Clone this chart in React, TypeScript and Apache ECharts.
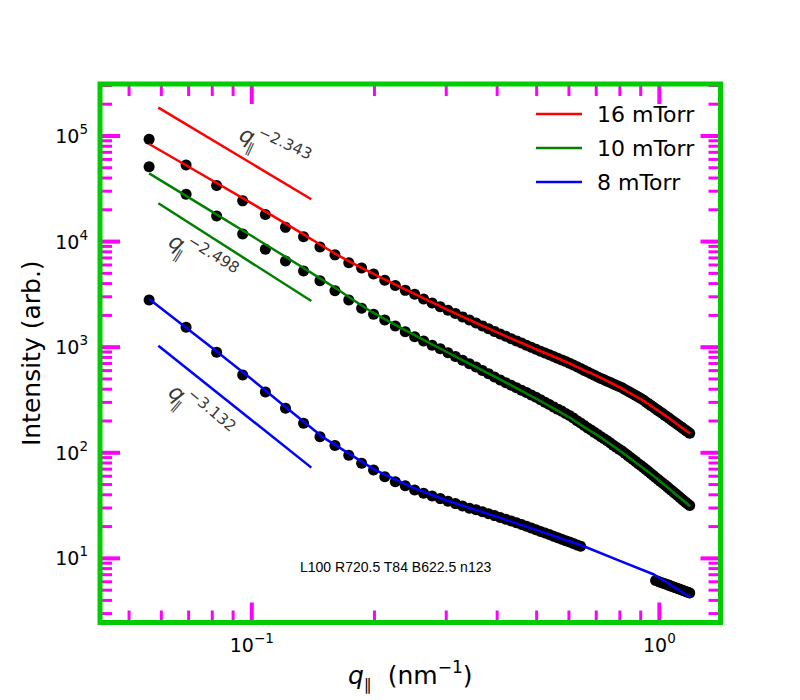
import React, { useEffect, useRef } from "react";
import * as echarts from "echarts";

// ---------------- data ----------------
const qValues = [
  0.056, 0.069, 0.082, 0.095, 0.108, 0.121, 0.134, 0.147, 0.160, 0.173,
  0.186, 0.199, 0.212, 0.225, 0.238, 0.251, 0.264, 0.277, 0.290, 0.303,
  0.316, 0.329, 0.342, 0.355, 0.368, 0.381, 0.394, 0.407, 0.420, 0.433,
  0.446, 0.459, 0.472, 0.485, 0.498, 0.511, 0.524, 0.537, 0.550, 0.563,
  0.576, 0.589, 0.602, 0.615, 0.628, 0.641, 0.654, 0.667, 0.680, 0.693,
  0.706, 0.719, 0.732, 0.745, 0.758, 0.771, 0.784, 0.797, 0.810, 0.823,
  0.836, 0.849, 0.862, 0.875, 0.888, 0.901, 0.914, 0.927, 0.940, 0.953,
  0.966, 0.979, 0.992, 1.005, 1.018, 1.031, 1.044, 1.057, 1.070, 1.083,
  1.096, 1.109, 1.122, 1.135, 1.148, 1.161, 1.174, 1.187,
];

const int16 = [
  93060, 53150, 33980, 24290, 18060, 13630, 11100, 8890, 7483, 6314,
  5612, 4922, 4310, 3840, 3451, 3176, 2854, 2622, 2418, 2240,
  2080, 1936, 1809, 1695, 1591, 1497, 1411, 1334, 1266, 1204,
  1147, 1094, 1042, 998, 955, 916, 881, 847, 816, 787,
  758, 732, 706, 677, 651, 627, 603, 582, 561, 542,
  523, 506, 491, 476, 462, 448, 436, 424, 412, 398,
  385, 372, 360, 348, 337, 326, 316, 303, 292, 281,
  271, 261, 252, 243, 235, 227, 219, 212, 204, 198,
  191, 185, 179, 174, 168, 163, 158, 153,
];

const int10 = [
  51220, 28050, 17480, 11800, 8455, 6552, 5268, 4255, 3428, 2799,
  2341, 2049, 1809, 1588, 1402, 1257, 1145, 1042, 965, 885,
  815, 753, 698, 648, 602, 560, 522, 489, 461, 436,
  413, 391, 372, 353, 335, 317, 301, 286, 272, 259,
  248, 236, 225, 213, 201, 191, 181, 172, 164, 156,
  149, 142, 136, 130, 124, 118, 113, 108, 104, 99.1,
  94.5, 90.3, 86.2, 82.6, 78.9, 75.6, 72.4, 69.3, 66.4, 63.5,
  61.0, 58.4, 56.1, 53.8, 51.8, 49.8, 47.8, 45.9, 44.2, 42.4,
  40.9, 39.3, 37.9, 36.4, 35.2, 33.9, 32.7, 31.6,
];

const int8Low = [
  2799, 1543, 895, 546, 377, 264, 190, 142, 117, 94.7,
  79.5, 68.7, 59.4, 53.2, 48.8, 44.4, 41.3, 39.0, 36.8, 34.8,
  33.0, 31.4, 29.9, 28.9, 27.6, 26.5, 25.4, 24.4, 23.5, 22.6,
  21.7, 20.9, 20.1, 19.4, 18.7, 18.0, 17.4, 16.8, 16.2, 15.7,
  15.2, 14.7, 14.3, 13.8, 13.4, 13.05,
];

const q8High = [
  0.979, 0.992, 1.005, 1.018, 1.031, 1.044, 1.057, 1.070, 1.083,
  1.096, 1.109, 1.122, 1.135, 1.148, 1.161, 1.174, 1.187,
];
const int8High = [
  6.18, 6.07, 5.95, 5.85, 5.75, 5.65, 5.55, 5.45, 5.36,
  5.28, 5.19, 5.10, 5.02, 4.93, 4.86, 4.79, 4.70,
];

const fitQ = [
  0.056, 0.1, 0.134, 0.16, 0.2, 0.3, 0.4, 0.5, 0.55, 0.6, 0.65, 0.7,
  0.75, 0.8, 0.85, 0.9, 0.95, 1.0, 1.05, 1.1, 1.15, 1.19,
];
const fit16 = [
  84000, 23000, 11700, 7700, 4900, 2290, 1378, 951, 816, 706, 611, 538,
  473, 416, 364, 322, 282, 246, 216, 189, 167, 152,
];
const fit10 = [
  44300, 11300, 5620, 3650, 2090, 905, 511, 323, 263, 217, 178, 149,
  124.6, 104.4, 87.8, 74.7, 63.8, 54.3, 46.6, 40.1, 34.7, 31.2,
];
const fitQ8 = [0.056, 0.08, 0.1, 0.12, 0.15, 0.2, 0.25, 0.3, 0.4, 0.5, 0.65, 0.8, 0.97, 1.19];
const fit8 = [2860, 983, 496, 279, 139, 69.3, 46.3, 35.5, 24.7, 18.5, 13.1, 9.47, 7.04, 4.28];

const guideQ = [0.059, 0.14];
const guide16 = [185500, 25160];
const guide10 = [23050, 2738];
const guide8 = [1033, 72.3];

const seriesNames = ["16 mTorr", "10 mTorr", "8 mTorr"];
const exponents = ["−2.343", "−2.498", "−3.132"];
const annotQ = [0.1134, 0.0755, 0.0746];
const annotI = [76900, 6995, 243];
const annotRot = [-25, -32, -40];

const xMajorTicks = [0.1, 1];
const xMinorTicks = [0.05, 0.06, 0.07, 0.08, 0.09, 0.2, 0.3, 0.4, 0.5, 0.6, 0.7, 0.8, 0.9];
const yMajorTicks = [10, 100, 1000, 10000, 100000];
const yMinorTicks = [
  3, 4, 5, 6, 7, 8, 9,
  20, 30, 40, 50, 60, 70, 80, 90,
  200, 300, 400, 500, 600, 700, 800, 900,
  2000, 3000, 4000, 5000, 6000, 7000, 8000, 9000,
  20000, 30000, 40000, 50000, 60000, 70000, 80000, 90000,
  200000, 300000,
];

const xRange = [0.04243, 1.4125];
const yRange = [2.47, 310600];

const FONT = "DejaVu Sans";
const L = Math.log10;
const pairs = (xs: number[], ys: number[]) => ys.map((y, i) => [L(xs[i]), L(y)]);
const colors = ["#ff0000", "#008000", "#0000ff"];
const GRID = { left: 100, top: 84, width: 620.5, height: 538.5 };

function powLabel(v: number) {
  const e = Math.round(v);
  return `{b|10}{s|${e < 0 ? "−" : ""}${Math.abs(e)}}`;
}

const labelRich = {
  b: { fontSize: 19, fontFamily: FONT, color: "#000", lineHeight: 28 },
  s: { fontSize: 13.5, fontFamily: FONT, color: "#000", lineHeight: 13, verticalAlign: "top" },
};

function makeAxis(kind: "x" | "y", position: string) {
  const range = kind === "x" ? xRange : yRange;
  const ticks = kind === "x" ? xMajorTicks : yMajorTicks;
  const logTicks = ticks.map((t) => L(t));
  return {
    type: "value",
    position,
    min: L(range[0]),
    max: L(range[1]),
    splitLine: { show: false },
    axisLine: { show: false, onZero: false },
    axisTick: { show: false },
    axisLabel: {
      show: true,
      customValues: logTicks,
      margin: kind === "x" ? 8 : 12,
      formatter: (v: number) => powLabel(v),
      rich: labelRich,
    },
  } as any;
}

function buildOption() {
  const xAxes = [
    {
      ...makeAxis("x", "bottom"),
      name: "{i|q}{sub|∥}{n|  (nm}{sup|−1}{n|)}",
      nameLocation: "middle",
      nameGap: 34,
      nameTextStyle: {
        rich: {
          i: { fontSize: 25, fontFamily: FONT, fontStyle: "italic", color: "#000", lineHeight: 34 },
          sub: { fontSize: 16, fontFamily: FONT, color: "#000", lineHeight: 14, verticalAlign: "bottom" },
          n: { fontSize: 25, fontFamily: FONT, color: "#000", lineHeight: 34 },
          sup: { fontSize: 17, fontFamily: FONT, color: "#000", lineHeight: 17, verticalAlign: "top" },
        },
      },
    },
  ];
  const yAxes = [
    {
      ...makeAxis("y", "left"),
      name: "Intensity (arb.)",
      nameLocation: "middle",
      nameGap: 52,
      nameTextStyle: { fontSize: 25, fontFamily: FONT, color: "#000" },
    },
  ];

  const dataSets = [
    pairs(qValues, int16),
    pairs(qValues, int10),
    pairs(qValues.slice(0, int8Low.length), int8Low),
    pairs(q8High, int8High),
  ];
  const scatterSeries = dataSets.map((d, i) => ({
    type: "scatter",
    name: "data" + i,
    data: d,
    symbol: "circle",
    symbolSize: 11,
    itemStyle: { color: "#000", opacity: 1 },
    z: 2,
    silent: true,
  }));

  const fits = [pairs(fitQ, fit16), pairs(fitQ, fit10), pairs(fitQ8, fit8)];
  const fitSeries = fits.map((d, i) => ({
    type: "line",
    name: seriesNames[i],
    data: d,
    symbol: "none",
    smooth: i < 2 ? 0.25 : false,
    lineStyle: { color: colors[i], width: 2.5 },
    itemStyle: { color: colors[i] },
    z: 3,
    silent: true,
  }));

  const guides = [guide16, guide10, guide8].map((g) => pairs(guideQ, g));
  const guideSeries = guides.map((d, i) => ({
    type: "line",
    name: "guide" + i,
    data: d,
    symbol: "none",
    lineStyle: { color: colors[i], width: 2.5 },
    z: 3,
    silent: true,
  }));

  const annotSeries = {
    type: "scatter",
    name: "annotations",
    symbolSize: 1,
    itemStyle: { color: "rgba(0,0,0,0)" },
    silent: true,
    z: 4,
    data: exponents.map((e, i) => ({
      value: [L(annotQ[i]), L(annotI[i])],
      label: { rotate: annotRot[i], formatter: `{q|q}{sub|∥}{sup|${e}}` },
    })),
    label: {
      show: true,
      position: "inside",
      align: "center",
      verticalAlign: "middle",
      rich: {
        q: { fontSize: 22, fontFamily: FONT, fontStyle: "italic", color: "#000", lineHeight: 34 },
        sub: { fontSize: 14, fontFamily: FONT, color: "#000", lineHeight: 14, verticalAlign: "bottom", width: 2 },
        sup: { fontSize: 15.5, fontFamily: FONT, color: "#000", lineHeight: 15, verticalAlign: "top" },
      },
    },
  };

  return {
    animation: false,
    grid: { ...GRID },
    legend: {
      data: seriesNames,
      orient: "vertical",
      left: 531,
      top: 97,
      icon: "rect",
      itemWidth: 46,
      itemHeight: 2.5,
      itemGap: 10,
      selectedMode: false,
      textStyle: { fontSize: 22, fontFamily: FONT, color: "#000", lineHeight: 24, padding: [0, 0, 0, 10] },
    },
    xAxis: xAxes,
    yAxis: yAxes,
    series: [...scatterSeries, ...fitSeries, ...guideSeries, annotSeries],
  };
}

function buildFrame(chart: any) {
  const px = (v: number) => chart.convertToPixel({ xAxisIndex: 0 }, v) as any;
  const py = (v: number) => chart.convertToPixel({ yAxisIndex: 0 }, v) as any;
  const left = px(L(xRange[0]));
  const right = px(L(xRange[1]));
  const bottom = py(L(yRange[0]));
  const top = py(L(yRange[1]));
  const els: any[] = [];
  const add = (x1: number, y1: number, x2: number, y2: number, w: number) => {
    els.push({ type: "line", shape: { x1: x1, y1: y1, x2: x2, y2: y2 }, style: { stroke: "#f0f", lineWidth: w } });
  };
  xMajorTicks.forEach((t) => {
    const x = px(L(t));
    add(x, bottom, x, bottom - 20, 4);
    add(x, top, x, top + 20, 4);
  });
  xMinorTicks.forEach((t) => {
    const x = px(L(t));
    add(x, bottom, x, bottom - 12, 3);
    add(x, top, x, top + 12, 3);
  });
  yMajorTicks.forEach((t) => {
    const y = py(L(t));
    add(left, y, left + 20, y, 4);
    add(right, y, right - 20, y, 4);
  });
  yMinorTicks.forEach((t) => {
    const y = py(L(t));
    add(left, y, left + 12, y, 3);
    add(right, y, right - 12, y, 3);
  });
  els.push({
    type: "rect",
    shape: { x: left, y: top, width: right - left, height: bottom - top },
    style: { fill: "rgba(0,0,0,0)", stroke: "#0c0", lineWidth: 5 },
  });
  els.push({ type: "text", x: 300, y: 560, style: { text: `L${left} R${right} T${top} B${bottom} n${els.length}`, fontSize: 14, fill: "#000" } });
  return els;
}

export default function App() {
  const ref = useRef<HTMLDivElement>(null);
  useEffect(() => {
    document.body.style.margin = "0";
    const chart = echarts.init(ref.current!, null, { renderer: "svg" });
    chart.setOption(buildOption() as any);
    chart.setOption({ graphic: { elements: buildFrame(chart) } } as any);
    return () => chart.dispose();
  }, []);
  return <div ref={ref} style={{ width: 800, height: 700 }} />;
}
